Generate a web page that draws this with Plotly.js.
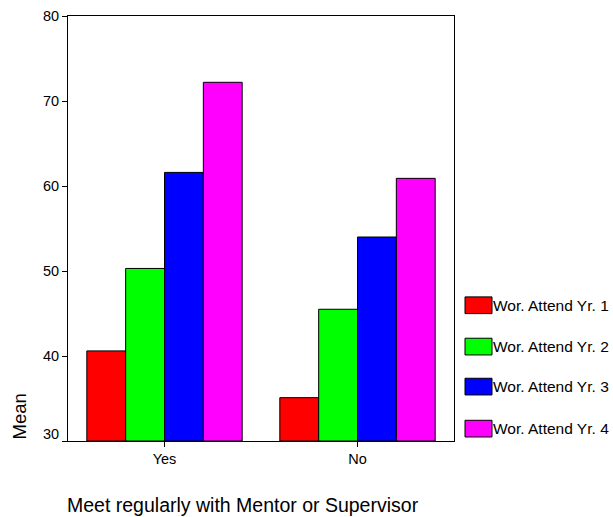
<!DOCTYPE html>
<html>
<head>
<meta charset="utf-8">
<script src="https://cdn.plot.ly/plotly-3.0.1.min.js"></script>
<style>html,body{margin:0;padding:0;background:#fff;}#chart{width:613px;height:517px;}</style>
</head>
<body>
<div id="chart"></div>
<script>
const categories = ["Yes", "No"];
const seriesNames = ["Wor. Attend Yr. 1", "Wor. Attend Yr. 2", "Wor. Attend Yr. 3", "Wor. Attend Yr. 4"];
const yr1 = [40.6, 35.1];
const yr2 = [50.3, 45.5];
const yr3 = [61.6, 54.0];
const yr4 = [72.2, 60.9];
const seriesValues = [yr1, yr2, yr3, yr4];
const colors = ["#FF0000", "#00FF00", "#0000FF", "#FF00FF"];
const yTicks = [30, 40, 50, 60, 70, 80];
const xTitle = "Meet regularly with Mentor or Supervisor";
const yTitle = "Mean";
const axisFloor = 30;

const FONT = "Arial, 'Liberation Sans', sans-serif";

const traces = seriesValues.map((vals, i) => ({
  type: "bar",
  x: categories,
  y: vals.map(v => v - axisFloor),
  base: axisFloor,
  name: seriesNames[i],
  marker: {color: colors[i], line: {color: "#000", width: 1}},
  showlegend: false
}));

// custom legend (big swatches like the reference)
const legTop = [296.7, 338, 378, 420];
const plotL = 68, plotW = 386, plotB = 440.7, plotH = 424.7;
const px2x = p => (p - plotL) / plotW;
const py2y = p => (plotB - p) / plotH;
const shapes = [];
const annotations = [];
seriesNames.forEach((n, i) => {
  shapes.push({type: "rect", xref: "paper", yref: "paper",
    x0: px2x(465), x1: px2x(492), y0: py2y(legTop[i] + 16.7), y1: py2y(legTop[i]),
    fillcolor: colors[i], line: {color: "#000", width: 1}});
  annotations.push({xref: "paper", yref: "paper", x: px2x(491), y: py2y(legTop[i] + 8.3),
    xanchor: "left", yanchor: "middle", text: n, showarrow: false,
    font: {family: FONT, size: 15.5, color: "#000"}});
});
annotations.push({xref: "paper", yref: "paper", x: px2x(18.5), y: 0, xanchor: "center", yanchor: "bottom",
  textangle: -90, text: yTitle, showarrow: false, font: {family: FONT, size: 18.5, color: "#000"}});
annotations.push({xref: "paper", yref: "paper", x: px2x(65), y: py2y(505), xanchor: "left", yanchor: "middle",
  text: xTitle, showarrow: false, font: {family: FONT, size: 19.5, color: "#000"}});
// lowest tick label sits slightly above its tick in the reference
annotations.push({xref: "paper", yref: "paper", x: px2x(61), y: py2y(434), xanchor: "right", yanchor: "middle",
  text: String(yTicks[0]), showarrow: false, font: {family: FONT, size: 14.5, color: "#000"}});

const layout = {
  width: 613, height: 517,
  margin: {l: 68, r: 159, t: 16, b: 76.3, pad: 0},
  paper_bgcolor: "#fff", plot_bgcolor: "#fff",
  font: {family: FONT, size: 14.5, color: "#000"},
  barmode: "group", bargap: 0.195, bargroupgap: 0,
  showlegend: false,
  xaxis: {type: "category", range: [-0.5, 1.5], showline: true, linecolor: "#000", linewidth: 1, mirror: true,
    ticks: "outside", ticklen: 5, tickcolor: "#000", showgrid: false, zeroline: false,
    tickfont: {family: FONT, size: 14.5, color: "#000"}},
  yaxis: {range: [30, 80], tickvals: yTicks, ticktext: yTicks.map((v, i) => i === 0 ? "" : String(v)),
    showline: true, linecolor: "#000", linewidth: 1, mirror: true,
    ticks: "outside", ticklen: 5, tickcolor: "#000", showgrid: false, zeroline: false,
    tickfont: {family: FONT, size: 14.5, color: "#000"}},
  shapes: shapes,
  annotations: annotations
};

Plotly.newPlot("chart", traces, layout, {displayModeBar: false, staticPlot: true});
</script>
</body>
</html>
